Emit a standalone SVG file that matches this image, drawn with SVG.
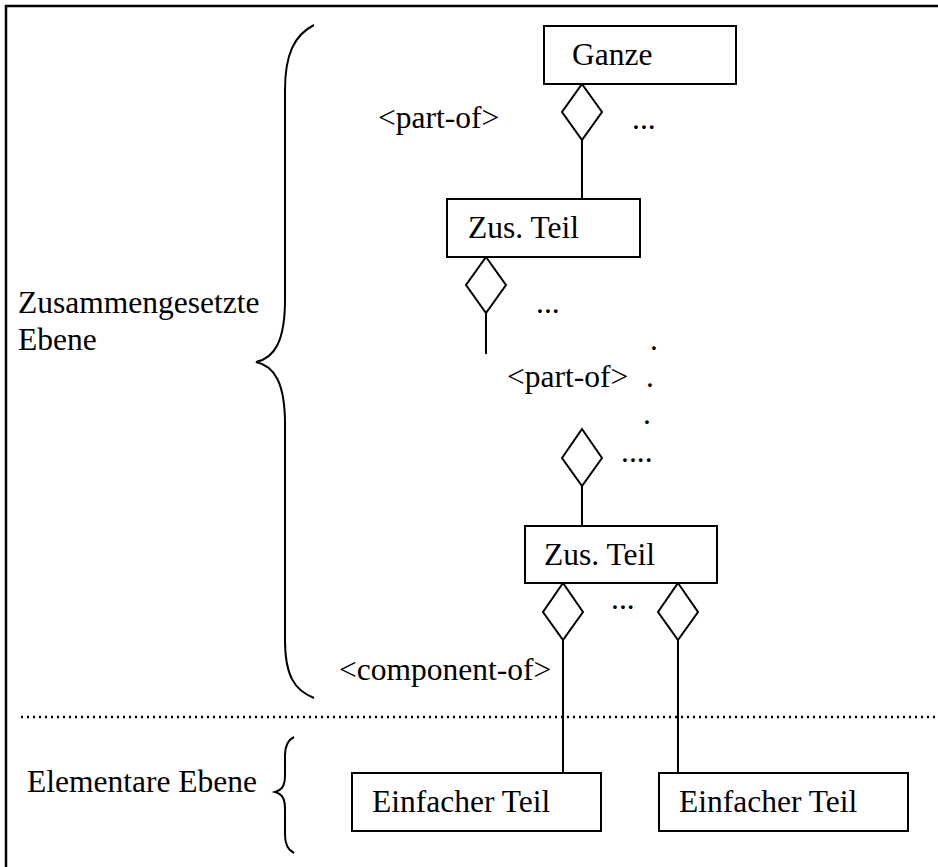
<svg xmlns="http://www.w3.org/2000/svg" width="938" height="867" viewBox="0 0 938 867" font-family="'Liberation Serif', 'DejaVu Serif', serif">
  <style>
    text { font-family: 'Liberation Serif', 'DejaVu Serif', serif; font-size: 31.5px; fill: #000; }
    .box { fill: #fff; stroke: #000; stroke-width: 2; }
    .line { stroke: #000; stroke-width: 2; fill: none; }
    .dia { fill: #fff; stroke: #000; stroke-width: 2; stroke-linejoin: miter; }
    .brace { stroke: #000; stroke-width: 2; fill: none; }
    .frame { stroke: #000; stroke-width: 2.5; fill: none; }
    .sep { stroke: #000; stroke-width: 2.5; stroke-dasharray: 2 4; fill: none; }
  </style>

  <!-- outer frame (top and left edge) -->
  <path class="frame" d="M6,867 V6 H938"/>

  <!-- level separator -->
  <line class="sep" x1="21" y1="717" x2="938" y2="717"/>

  <!-- level braces and labels -->
  <g id="level-composite">
    <path class="brace" d="M314,25 C294,35 285,55 285,90 V300 C285,340 275,358 256,362 C275,366 285,384 285,424 V640 C285,675 294,690 314,698"/>
    <text x="18" y="313">Zusammengesetzte</text>
    <text x="18" y="350">Ebene</text>
  </g>
  <g id="level-elementary">
    <path class="brace" d="M294,737 C288,740 285,745 285,755 V775 C285,786 282,790 275,792 C282,794 285,798 285,809 V835 C285,845 288,850 294,853"/>
    <text x="27" y="792">Elementare Ebene</text>
  </g>

  <!-- connectors -->
  <g id="connectors">
    <line class="line" x1="582" y1="140" x2="582" y2="199"/>
    <polygon class="dia" points="582,84 602,112 582,140 562,112"/>

    <line class="line" x1="486" y1="313" x2="486" y2="354"/>
    <polygon class="dia" points="486,257 506,285 486,313 466,285"/>

    <line class="line" x1="582" y1="486" x2="582" y2="526"/>
    <polygon class="dia" points="582,429 602,458 582,486 562,458"/>

    <line class="line" x1="563" y1="640" x2="563" y2="773"/>
    <polygon class="dia" points="563,583 583,612 563,640 543,612"/>

    <line class="line" x1="678" y1="640" x2="678" y2="773"/>
    <polygon class="dia" points="678,583 698,612 678,640 658,612"/>
  </g>

  <!-- connector labels -->
  <g id="labels">
    <text x="378" y="128">&lt;part-of&gt;</text>
    <text x="632" y="129">...</text>
    <text x="536" y="313">...</text>
    <text x="650" y="350">.</text>
    <text x="507" y="387">&lt;part-of&gt;</text>
    <text x="646" y="387">.</text>
    <text x="643" y="424">.</text>
    <text x="621" y="462">....</text>
    <text x="611" y="609">...</text>
    <text x="339" y="680">&lt;component-of&gt;</text>
  </g>

  <!-- nodes -->
  <g id="ganze">
    <rect class="box" x="544" y="26" width="192" height="58"/>
    <text x="572" y="65">Ganze</text>
  </g>
  <g id="zus-teil-1">
    <rect class="box" x="447" y="199" width="193" height="58"/>
    <text x="468" y="238">Zus. Teil</text>
  </g>
  <g id="zus-teil-2">
    <rect class="box" x="525" y="526" width="192" height="57"/>
    <text x="544" y="565">Zus. Teil</text>
  </g>
  <g id="einfacher-teil-1">
    <rect class="box" x="352" y="773" width="249" height="58"/>
    <text x="372" y="812">Einfacher Teil</text>
  </g>
  <g id="einfacher-teil-2">
    <rect class="box" x="659" y="773" width="249" height="58"/>
    <text x="679" y="812">Einfacher Teil</text>
  </g>
</svg>
